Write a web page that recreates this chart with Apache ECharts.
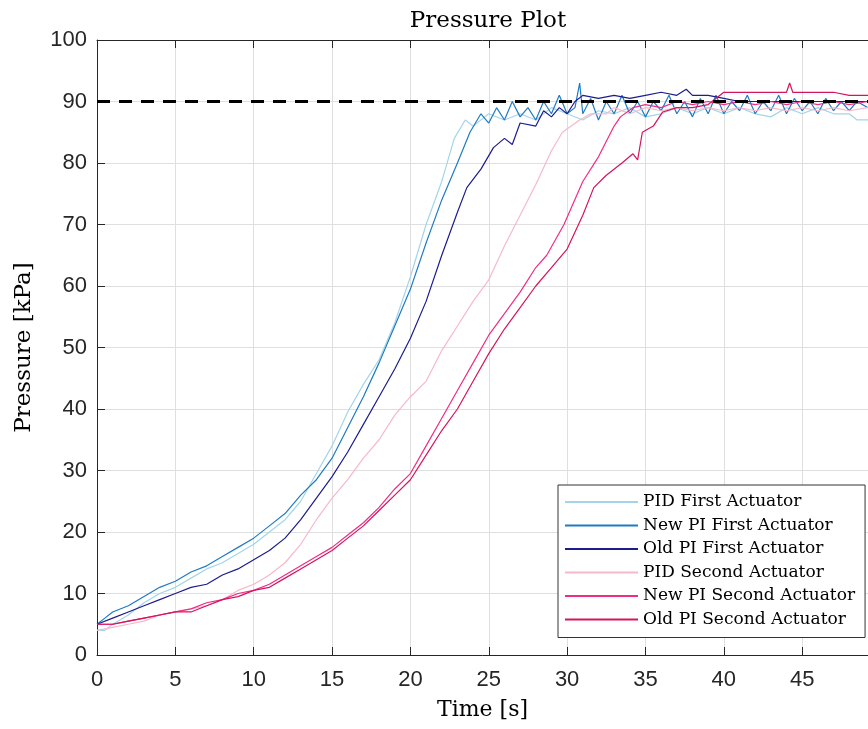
<!DOCTYPE html>
<html>
<head>
<meta charset="utf-8">
<title>Pressure Plot</title>
<script src="https://cdn.jsdelivr.net/npm/echarts@6/dist/echarts.min.js"></script>
<style>
  html, body { margin: 0; padding: 0; background: #fff; }
  #chart { width: 868px; height: 729px; }
</style>
</head>
<body>
<div id="chart"></div>
<script>
// values, [time s, pressure kPa]
var pidFirst = [
  [0,4],[0.5,4],[1,5],[2,6.5],[3,8.5],[4,10],[5,11],[6,12.5],[7,14],[8,15],[9,16.5],[10,18],
  [11,20],[12,22],[13,25],[14,29.5],[15,34],[16,39.5],[17,44],[18,48],[19,54],[20,61.5],
  [21,70],[22,77],[22.8,84],[23.5,87],[24,86],[25,88],[26,87],[27,88],[28,87],[29,89],
  [30,88],[31,87],[32,88.5],[33,88],[34,89],[35,87.5],[36,88],[37,89],[38,88],[39,89],
  [40,88],[41,89],[42,88],[43,87.5],[44,89],[45,88],[46,89],[47,88],[48,88],[48.5,87],[49.2,87]
];
var newPiFirst = [
  [0,5],[0.5,6],[1,7],[2,8],[3,9.5],[4,11],[5,12],[6,13.5],[7,14.5],[8,16],[9,17.5],[10,19],
  [11,21],[12,23],[13,26],[14,28.5],[15,32],[16,37],[17,42],[18,47.5],[19,53.5],[20,59.5],
  [21,67],[22,74],[23,80],[23.8,85],[24.5,88],[25,86.5],[25.5,89],[26,87],[26.5,90],[27,87.5],
  [27.5,89],[28,87],[28.5,90],[29,88],[29.5,91],[30,88],[30.5,89],[30.8,93],[31,88],[31.5,90.5],
  [32,87],[32.5,90],[33,88],[33.5,91],[34,88],[34.5,90],[35,87.5],[35.5,90],[36,88.5],[36.5,91],
  [37,88],[37.5,90],[38,87.5],[38.5,90.5],[39,88],[39.5,91],[40,88],[40.5,90],[41,88.5],[41.5,91],
  [42,88],[42.5,90],[43,88.5],[43.5,91],[44,88],[44.5,90.5],[45,88.5],[45.5,90],[46,88],
  [46.5,90.5],[47,88.5],[47.5,90],[48,88.5],[48.5,90],[49.2,89]
];
var oldPiFirst = [
  [0,5],[1,6],[2,7],[3,8],[4,9],[5,10],[6,11],[7,11.5],[8,13],[9,14],[10,15.5],[11,17],
  [12,19],[13,22],[14,25.5],[15,29],[16,33],[17,37.5],[18,42],[19,46.5],[20,51.5],[21,57.5],
  [22,65],[23,72],[23.6,76],[24.5,79],[25.3,82.5],[26,84],[26.5,83],[27,86.5],[28,86],
  [28.5,88.5],[29,87.5],[29.5,89],[30,88],[30.5,90],[31,91],[32,90.5],[33,91],[34,90.5],
  [35,91],[36,91.5],[37,91],[37.6,92],[38,91],[39,91],[40,90.5],[41,90],[42,90],[43,90],
  [44,90],[45,90],[46,90],[47,90],[48,90],[49.2,90]
];
var pidSecond = [
  [0,4],[1,4.5],[2,5],[3,5.5],[4,6.5],[5,7],[6,7.5],[7,8],[8,9],[9,10.5],[10,11.5],[11,13],
  [12,15],[13,18],[14,22],[15,25.5],[16,28.5],[17,32],[18,35],[19,39],[20,42],[21,44.5],
  [22,49.5],[23,53.5],[24,57.5],[25,61],[26,66.5],[27,71.5],[28,76.5],[29,82],[29.7,85],
  [30.8,87],[31.5,88],[32.5,88],[33,89],[34,88],[35,89],[36,88.5],[37,89],[38,88.5],[39,89],
  [40,88.5],[41,89],[42,88.5],[43,89],[44,88.5],[45,89],[46,88.5],[47,89],[48,88.5],[49.2,89]
];
var newPiSecond = [
  [0,5],[1,5],[2,5.5],[3,6],[4,6.5],[5,7],[6,7.5],[7,8.5],[8,9],[9,10],[10,10.5],[11,11.5],
  [12,13],[13,14.5],[14,16],[15,17.5],[16,19.5],[17,21.5],[18,24],[19,27],[20,29.5],[21,34],
  [22,38.5],[23,43],[24,47.5],[25,52],[26,55.5],[27,59],[28,63],[28.7,65],[29.8,70],[31,77],
  [32,81],[33,86],[33.4,87.5],[34.2,89],[35,89.5],[36,89],[37,90],[38,89.5],[39,90],[40,89.5],
  [41,90],[42,89.5],[43,90],[44,89.5],[45,90],[46,89.5],[47,90],[48,89.5],[49.2,90]
];
var oldPiSecond = [
  [0,5],[1,5],[2,5.5],[3,6],[4,6.5],[5,7],[6,7],[7,8],[8,9],[9,9.5],[10,10.5],[11,11],
  [12,12.5],[13,14],[14,15.5],[15,17],[16,19],[17,21],[18,23.5],[19,26],[20,28.5],[21,32.5],
  [22,36.5],[23,40],[24,44.5],[25,49],[26,53],[27,56.5],[28,60],[29,63],[30,66],[31,71.5],
  [31.7,76],[32.5,78],[33.5,80],[34.2,81.5],[34.5,80.5],[34.8,85],[35.5,86],[36.1,88.3],
  [37,89],[38,89],[39,89.5],[40,91.5],[41,91.5],[42,91.5],[43,91.5],[44,91.5],[44.2,93],
  [44.4,91.5],[45,91.5],[46,91.5],[47,91.5],[48,91],[49.2,91]
];
var setpoint = [[0,90],[49.2,90]];

var names = ['PID First Actuator','New PI First Actuator','Old PI First Actuator',
             'PID Second Actuator','New PI Second Actuator','Old PI Second Actuator'];
var colors = ['#a3d5e8','#1f7bc4','#1c1c8f','#f7b8c9','#ef2c86','#d4145e'];
var allData = [pidFirst, newPiFirst, oldPiFirst, pidSecond, newPiSecond, oldPiSecond];

var serif = 'DejaVu Serif';
var sans = 'Liberation Sans';

var series = [];
for (var i = 0; i < allData.length; i++) {
  series.push({
    name: names[i],
    type: 'line',
    data: allData[i],
    symbol: 'none',
    lineStyle: { color: colors[i], width: 1.2 },
    itemStyle: { color: colors[i] }
  });
}
series.push({
  name: 'Setpoint',
  type: 'line',
  data: setpoint,
  symbol: 'none',
  z: 5,
  lineStyle: { color: '#000', width: 3, type: [13, 9] }
});

var tickStyle = { inside: true, length: 8, lineStyle: { color: '#262626' } };

var option = {
  animation: false,
  backgroundColor: '#fff',
  title: {
    text: 'Pressure Plot',
    left: 483,
    top: 5,
    textAlign: 'center',
    textStyle: { fontFamily: serif, fontSize: 23, fontWeight: 'normal', color: '#000' }
  },
  legend: {
    data: names,
    orient: 'vertical',
    left: 558,
    top: 485,
    padding: [7, 10, 8, 7],
    icon: 'rect',
    itemWidth: 73,
    itemHeight: 2,
    itemGap: 3.5,
    backgroundColor: '#fff',
    borderColor: '#333',
    borderWidth: 1,
    textStyle: { fontFamily: serif, fontSize: 17, color: '#000', lineHeight: 20 }
  },
  grid: { left: 97, right: 0, top: 40, bottom: 74 },
  xAxis: [{
    type: 'value',
    min: 0,
    max: 49.2,
    interval: 5,
    name: 'Time [s]',
    nameLocation: 'middle',
    nameGap: 44,
    nameTextStyle: { fontFamily: serif, fontSize: 22, color: '#000' },
    axisLine: { lineStyle: { color: '#262626' } },
    axisTick: tickStyle,
    axisLabel: { fontFamily: sans, fontSize: 22, color: '#262626', margin: 14, showMaxLabel: false },
    splitLine: { show: true, lineStyle: { color: '#dfdfdf' } }
  }, {
    type: 'value',
    position: 'top',
    min: 0,
    max: 49.2,
    interval: 5,
    axisLine: { show: true, lineStyle: { color: '#262626' } },
    axisTick: tickStyle,
    axisLabel: { show: false },
    splitLine: { show: false }
  }],
  yAxis: {
    type: 'value',
    min: 0,
    max: 100,
    interval: 10,
    name: 'Pressure [kPa]',
    nameLocation: 'middle',
    nameGap: 61,
    nameTextStyle: { fontFamily: serif, fontSize: 23, color: '#000' },
    axisLine: { show: true, lineStyle: { color: '#262626' } },
    axisTick: tickStyle,
    axisLabel: { fontFamily: sans, fontSize: 22, color: '#262626', margin: 10 },
    splitLine: { show: true, lineStyle: { color: '#dfdfdf' } }
  },
  series: series
};

var myChart = echarts.init(document.getElementById('chart'));
myChart.setOption(option);
</script>
</body>
</html>
